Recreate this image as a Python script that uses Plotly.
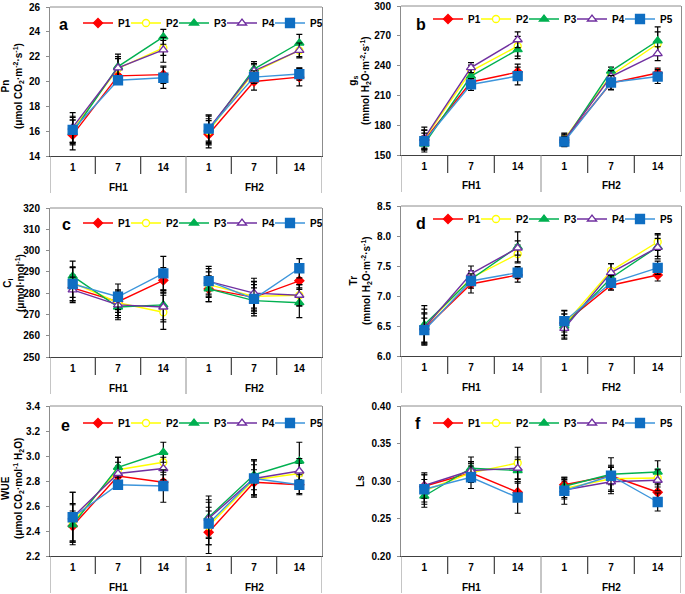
import plotly.graph_objects as go

GROUPS = ["FH1", "FH2"]
DAYS = ["1", "7", "14"]
SERIES = ["P1", "P2", "P3", "P4", "P5"]

# ---- a: Pn ----
PN_MEAN = [
    [15.7, 20.45, 20.55, 15.75, 20.0, 20.35],
    [16.1, 21.05, 22.7, 16.0, 20.75, 22.5],
    [15.9, 21.2, 23.6, 16.1, 21.0, 23.1],
    [16.3, 21.1, 22.55, 16.2, 20.85, 22.5],
    [16.1, 20.1, 20.3, 16.2, 20.35, 20.6],
]
PN_ERR = [
    [1.2, 0.5, 0.7, 1.1, 0.7, 0.7],
    [1.1, 0.8, 0.6, 1.0, 0.6, 0.5],
    [1.0, 1.0, 0.6, 1.2, 0.6, 0.7],
    [1.2, 0.9, 1.0, 1.0, 0.6, 0.6],
    [1.0, 0.3, 0.85, 1.1, 0.5, 0.5],
]
# ---- b: gs ----
GS_MEAN = [
    [165, 223.5, 233.5, 165, 222.5, 232.5],
    [166, 234.5, 259.5, 166, 230, 262],
    [161, 229.5, 256, 164, 234.5, 265],
    [167, 238, 266, 165, 229, 252],
    [164, 221, 229.5, 163.5, 223, 229],
]
GS_ERR = [
    [10, 6, 8, 5, 7, 5],
    [9, 6, 10, 6, 6, 12],
    [8, 7, 9, 5, 4, 14],
    [11, 5, 8, 6, 6, 7],
    [8, 6, 9, 5, 7, 7],
]
# ---- c: Ci ----
CI_MEAN = [
    [282.5, 276, 286, 282, 278, 285.8],
    [285, 275.5, 271, 284, 278.5, 279],
    [288, 273.5, 274.5, 282, 276.5, 275.5],
    [281.5, 274.5, 273.5, 285.5, 280, 279],
    [284.3, 278.3, 289.3, 285.6, 277.3, 291.7],
]
CI_ERR = [
    [6, 5, 6, 6, 6, 4],
    [7, 6, 8, 6, 7, 5],
    [7, 6, 7, 6, 6, 7],
    [6, 6, 7, 6, 7, 5],
    [8, 6, 8, 7, 8, 4.5],
]
# ---- d: Tr ----
TR_MEAN = [
    [6.45, 7.2, 7.35, 6.55, 7.18, 7.35],
    [6.48, 7.3, 7.7, 6.52, 7.42, 7.9],
    [6.52, 7.28, 7.82, 6.5, 7.3, 7.82],
    [6.47, 7.37, 7.8, 6.46, 7.39, 7.81],
    [6.43, 7.25, 7.39, 6.58, 7.22, 7.47],
]
TR_ERR = [
    [0.25, 0.15, 0.12, 0.2, 0.08, 0.1],
    [0.3, 0.12, 0.15, 0.18, 0.12, 0.14],
    [0.32, 0.1, 0.25, 0.2, 0.1, 0.2],
    [0.25, 0.13, 0.12, 0.18, 0.15, 0.15],
    [0.2, 0.12, 0.1, 0.18, 0.12, 0.11],
]
# ---- e: WUE ----
WUE_MEAN = [
    [2.44, 2.84, 2.79, 2.39, 2.79, 2.77],
    [2.47, 2.89, 2.95, 2.44, 2.81, 2.86],
    [2.45, 2.91, 3.03, 2.51, 2.85, 2.96],
    [2.51, 2.86, 2.90, 2.50, 2.82, 2.88],
    [2.51, 2.77, 2.76, 2.46, 2.82, 2.77],
]
WUE_ERR = [
    [0.12, 0.08, 0.06, 0.17, 0.1, 0.07],
    [0.15, 0.1, 0.08, 0.15, 0.12, 0.08],
    [0.16, 0.08, 0.08, 0.17, 0.12, 0.15],
    [0.2, 0.09, 0.09, 0.15, 0.14, 0.1],
    [0.2, 0.03, 0.13, 0.17, 0.15, 0.08],
]
# ---- f: Ls ----
LS_MEAN = [
    [0.293, 0.311, 0.285, 0.295, 0.307, 0.285],
    [0.287, 0.311, 0.324, 0.290, 0.303, 0.304],
    [0.280, 0.317, 0.314, 0.293, 0.309, 0.312],
    [0.294, 0.314, 0.317, 0.288, 0.299, 0.301],
    [0.289, 0.305, 0.278, 0.287, 0.307, 0.272],
]
LS_ERR = [
    [0.015, 0.012, 0.012, 0.010, 0.012, 0.010],
    [0.015, 0.013, 0.021, 0.012, 0.015, 0.012],
    [0.015, 0.015, 0.015, 0.010, 0.012, 0.015],
    [0.017, 0.012, 0.015, 0.012, 0.013, 0.014],
    [0.020, 0.015, 0.021, 0.018, 0.024, 0.012],
]

PANEL_LETTERS = ["a", "b", "c", "d", "e", "f"]
Y_TITLES = [
    "Pn<br>(μmol CO<sub>2</sub>·m<sup>-2</sup>·s<sup>-1</sup>)",
    "g<sub>s</sub><br>(mmol H<sub>2</sub>O·m<sup>-2</sup>·s<sup>-1</sup>)",
    "C<sub>i</sub><br>(μmol·mol<sup>-1</sup>)",
    "Tr<br>(mmol H<sub>2</sub>O·m<sup>-2</sup>·s<sup>-1</sup>)",
    "WUE<br>(μmol CO<sub>2</sub>·mol<sup>-1</sup> H<sub>2</sub>O)",
    "Ls",
]
Y_RANGES = [(14, 26), (150, 300), (250, 320), (6.0, 8.5), (2.2, 3.4), (0.20, 0.40)]
Y_DTICKS = [2, 30, 10, 0.5, 0.2, 0.05]
Y_FORMATS = ["d", "d", "d", ".1f", ".1f", ".2f"]

MEANS = [PN_MEAN, GS_MEAN, CI_MEAN, TR_MEAN, WUE_MEAN, LS_MEAN]
ERRS = [PN_ERR, GS_ERR, CI_ERR, TR_ERR, WUE_ERR, LS_ERR]

# ---- styling ----
W, H = 685, 594
FONT = "Arial, Liberation Sans, sans-serif"
LINE_COLORS = ["#FF0000", "#FFFF00", "#00B050", "#7030A0", "#3D95DB"]
MARKER_FILL = ["#FF0000", "#FFFFFF", "#00B050", "#FFFFFF", "#0F6EC2"]
MARKER_EDGE = ["#FF0000", "#FFFF00", "#00B050", "#7030A0", "#0F6EC2"]
SYMBOLS = ["diamond", "circle", "triangle-up", "triangle-up", "square"]
SIZES = [7, 7, 8, 8, 9]
LEG_WIDTHS = [3, 3, 3, 3, 16]

# panel boxes in pixels: left, right, top, bottom
BOXES = [
    (50, 322, 7, 156), (401, 681, 6, 155),
    (50, 322, 208, 357), (401, 681, 206, 356),
    (50, 322, 406, 556), (401, 681, 406, 556),
]
YTITLE_POS = [(12, 86), (359, 81), (14, 283), (360, 281), (12, 489), (360, 481)]
LETTER_POS = [(64, 25), (421, 25), (66, 224), (421, 223), (65, 425), (418, 423)]
LEGEND_POS = [(78, 23), (428, 19), (78, 223), (428, 219), (78, 423), (428, 423)]

n_cat = len(GROUPS) * len(DAYS)


def with_gaps(vals):
    out = []
    for g in range(len(GROUPS)):
        if g > 0:
            out.append(None)
        out.extend(vals[g * len(DAYS):(g + 1) * len(DAYS)])
    return out


x_idx = with_gaps(list(range(n_cat)))

fig = go.Figure()
annotations = []
shapes = []
layout = {}

for p in range(6):
    L, R, T, B = BOXES[p]
    sfx = "" if p == 0 else str(p + 1)
    xa, ya = "x" + sfx, "y" + sfx
    leg = "legend" + sfx
    for s in range(len(SERIES)):
        err = [0 if e is None else e for e in with_gaps(ERRS[p][s])]
        fig.add_trace(go.Scatter(
            x=x_idx, y=with_gaps(MEANS[p][s]),
            mode="lines+markers", name=SERIES[s],
            xaxis=xa, yaxis=ya, legend=leg, legendwidth=LEG_WIDTHS[s],
            line=dict(color=LINE_COLORS[s], width=1.4),
            marker=dict(symbol=SYMBOLS[s], size=SIZES[s], color=MARKER_FILL[s],
                        line=dict(color=MARKER_EDGE[s], width=1.3)),
            error_y=dict(type="data", array=err, color="black", thickness=1.2, width=3),
        ))
    layout["xaxis" + sfx] = dict(
        domain=[L / W, R / W], anchor=ya, range=[-0.5, n_cat - 0.5],
        tickmode="array", tickvals=list(range(n_cat)), ticktext=DAYS * len(GROUPS),
        ticks="", showgrid=False, zeroline=False, showline=True,
        linecolor="#404040", linewidth=1.2, automargin=False,
        tickfont=dict(family=FONT, size=10, color="black", weight="bold"),
        ticklabelstandoff=2,
    )
    y0, y1 = Y_RANGES[p]
    layout["yaxis" + sfx] = dict(
        domain=[1 - B / H, 1 - T / H], anchor=xa, range=[y0, y1],
        dtick=Y_DTICKS[p], tick0=y0, tickformat=Y_FORMATS[p],
        ticks="outside", ticklen=3, tickcolor="#8c8c8c",
        showgrid=False, zeroline=False, showline=True, mirror=True,
        linecolor="#8c8c8c", linewidth=1, automargin=False,
        tickfont=dict(family=FONT, size=10, color="black", weight="bold"),
        ticklabelstandoff=4,
    )
    lx, ly = LEGEND_POS[p]
    layout[leg] = dict(
        x=lx / W, y=1 - ly / H, xanchor="left", yanchor="middle",
        orientation="h", bgcolor="rgba(0,0,0,0)", borderwidth=0,
        entrywidthmode="pixels", itemwidth=30,
        font=dict(family=FONT, size=10, color="black", weight="bold"),
    )
    # top frame line
    shapes.append(dict(type="line", xref=xa + " domain", yref=ya + " domain",
                       x0=0, x1=1, y0=1, y1=1, line=dict(color="#8c8c8c", width=1)))
    hpx = B - T
    # multi-level category dividers
    for gi in range(len(GROUPS) + 1):
        xv = gi * len(DAYS) - 0.5
        shapes.append(dict(type="line", xref=xa, yref=ya + " domain",
                           x0=xv, x1=xv, y0=0, y1=-37 / hpx,
                           line=dict(color="#8c8c8c", width=1)))
    for gi in range(len(GROUPS)):
        for di in range(1, len(DAYS)):
            xv = gi * len(DAYS) + di - 0.5
            shapes.append(dict(type="line", xref=xa, yref=ya + " domain",
                               x0=xv, x1=xv, y0=0, y1=-18 / hpx,
                               line=dict(color="#404040", width=1.2)))
    for gi, g in enumerate(GROUPS):
        annotations.append(dict(
            text=g, xref=xa, yref=ya + " domain",
            x=gi * len(DAYS) + (len(DAYS) - 1) / 2, y=-31 / hpx,
            showarrow=False, xanchor="center", yanchor="middle",
            font=dict(family=FONT, size=10, color="black", weight="bold")))
    # panel letter
    px_, py_ = LETTER_POS[p]
    annotations.append(dict(
        text=PANEL_LETTERS[p], xref="paper", yref="paper",
        x=px_ / W, y=1 - py_ / H, showarrow=False, xanchor="center", yanchor="middle",
        font=dict(family=FONT, size=16, color="black", weight="bold")))
    # y title
    tx, ty = YTITLE_POS[p]
    annotations.append(dict(
        text=Y_TITLES[p], xref="paper", yref="paper",
        x=tx / W, y=1 - ty / H, showarrow=False, textangle=-90,
        xanchor="center", yanchor="middle",
        font=dict(family=FONT, size=10, color="black", weight="bold")))

fig.update_layout(
    width=W, height=H, margin=dict(l=0, r=0, t=0, b=0, autoexpand=False),
    paper_bgcolor="white", plot_bgcolor="white",
    annotations=annotations, shapes=shapes, **layout,
)

fig.write_html("out.html", config={"displayModeBar": False},
               post_script="document.body.style.margin='0px';")
